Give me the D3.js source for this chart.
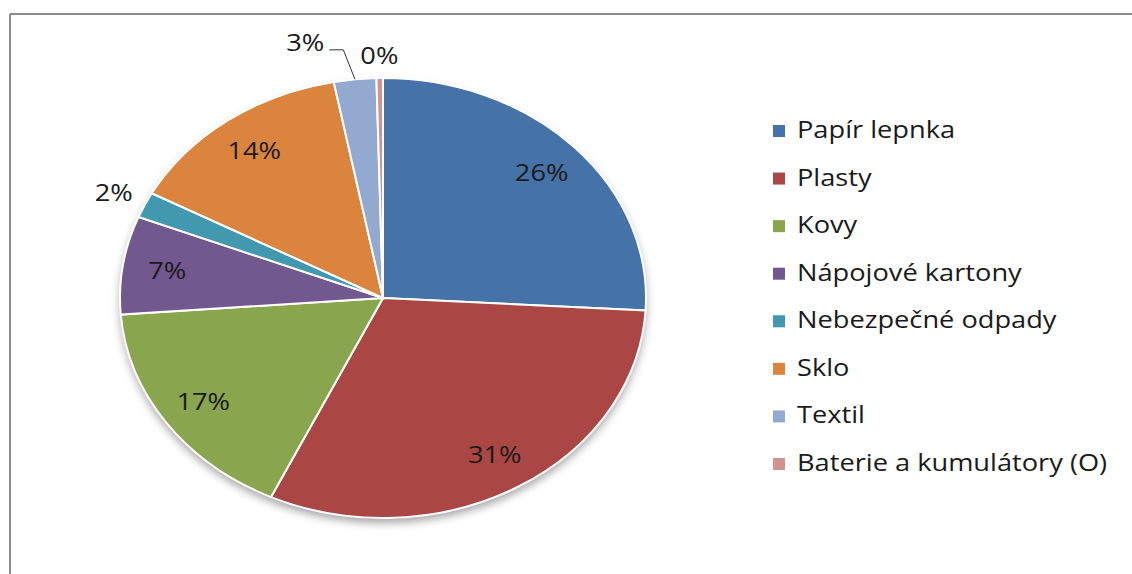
<!DOCTYPE html>
<html>
<head>
<meta charset="utf-8">
<script src="https://cdn.jsdelivr.net/npm/d3@7"></script>
<style>
  body { margin: 0; background: #fff; }
  text { font-family: "Open Sans", "Noto Sans", sans-serif; fill: #1a1a1a; }
</style>
</head>
<body>
<div class="chart"></div>
<script>
// chart data
var categories = ["Papír lepnka", "Plasty", "Kovy", "Nápojové kartony",
                  "Nebezpečné odpady", "Sklo", "Textil", "Baterie a kumulátory (O)"];
var shares = [25.9, 31.1, 16.8, 7.2, 1.9, 14.1, 2.6, 0.4];
var colors = ["#4572A7", "#AA4643", "#89A54E", "#71588F",
              "#4198AF", "#DB843D", "#93A9CF", "#D19392"];

var svgWidth = 1132, svgHeight = 574;
var cx = 383, cy = 298;
var ry = 220, rx = 263;
var sx = rx / ry;          // the whole picture is stretched sideways
var fontSize = "23px";

var svg = d3.select(".chart")
    .append("svg")
    .attr("width", svgWidth)
    .attr("height", svgHeight);

// frame
svg.append("line").attr("x1", 10).attr("y1", 14).attr("x2", svgWidth).attr("y2", 14)
    .attr("stroke", "#8c8c8c").attr("stroke-width", 2);
svg.append("line").attr("x1", 10).attr("y1", 14).attr("x2", 10).attr("y2", svgHeight)
    .attr("stroke", "#8c8c8c").attr("stroke-width", 2);

var defs = svg.append("defs");
var filt = defs.append("filter").attr("id", "shadow")
    .attr("x", "-20%").attr("y", "-20%").attr("width", "140%").attr("height", "140%");
filt.append("feDropShadow").attr("dx", 0).attr("dy", 5).attr("stdDeviation", 4)
    .attr("flood-color", "#000").attr("flood-opacity", 0.35);

var pie = d3.pie().sort(null).value(d => d);
var arcs = pie(shares);

var arc = d3.arc().innerRadius(0).outerRadius(ry);

var pieGroup = svg.append("g")
    .attr("transform", `translate(${cx}, ${cy}) scale(${sx}, 1)`);

pieGroup.append("ellipse")
    .attr("rx", ry).attr("ry", ry)
    .attr("fill", "#fff")
    .attr("filter", "url(#shadow)");

pieGroup.selectAll("path")
    .data(arcs)
    .enter()
    .append("path")
    .attr("d", arc)
    .attr("fill", (d, i) => colors[i])
    .attr("stroke", "#fff")
    .attr("stroke-width", 2)
    .attr("vector-effect", "non-scaling-stroke");

// position on the stretched pie for an angle and a radius factor
function pt(angle, f) {
    return [cx + Math.sin(angle) * ry * f * sx, cy - Math.cos(angle) * ry * f];
}

// stretched text, like the rest of the picture
function addText(g, x, y, str, anchor) {
    return g.append("text")
        .attr("transform", `translate(${x}, ${y}) scale(${sx * 0.99}, 1)`)
        .attr("text-anchor", anchor)
        .attr("dy", "0.35em")
        .attr("font-size", fontSize)
        .text(str);
}

var labelGroup = svg.append("g");
arcs.forEach(function (d, i) {
    var mid = (d.startAngle + d.endAngle) / 2;
    var pct = Math.round(d.value) + "%";
    var inside = d.value >= 5;
    var p = pt(mid, inside ? 0.83 : (i === 7 ? 1.1 : 1.13));
    var shift = [0, 0];
    if (i === 6) shift = [-46, -8];   // moved aside so it does not hit "0%"
    addText(labelGroup, p[0] + shift[0], p[1] + shift[1], pct, "middle");
    if (shift[0] !== 0) {
        var edge = pt(mid, 1.0);
        var lx = p[0] + shift[0] + 24;
        var ly = p[1] + shift[1] + 7;
        labelGroup.append("polyline")
            .attr("points", [[lx, ly], [lx + 14, ly], edge].map(q => q.join(",")).join(" "))
            .attr("fill", "none")
            .attr("stroke", "#333")
            .attr("stroke-width", 1);
    }
});

// legend
var legendY = d3.scalePoint()
    .domain(categories)
    .range([131, 464]);

var legend = svg.append("g");
legend.selectAll("rect")
    .data(categories)
    .enter()
    .append("rect")
    .attr("x", 773).attr("y", d => legendY(d) - 6)
    .attr("width", 12).attr("height", 12)
    .attr("fill", (d, i) => colors[i]);

categories.forEach(function (c) {
    addText(legend, 797, legendY(c) - 1, c, "start");
});
</script>
</body>
</html>
